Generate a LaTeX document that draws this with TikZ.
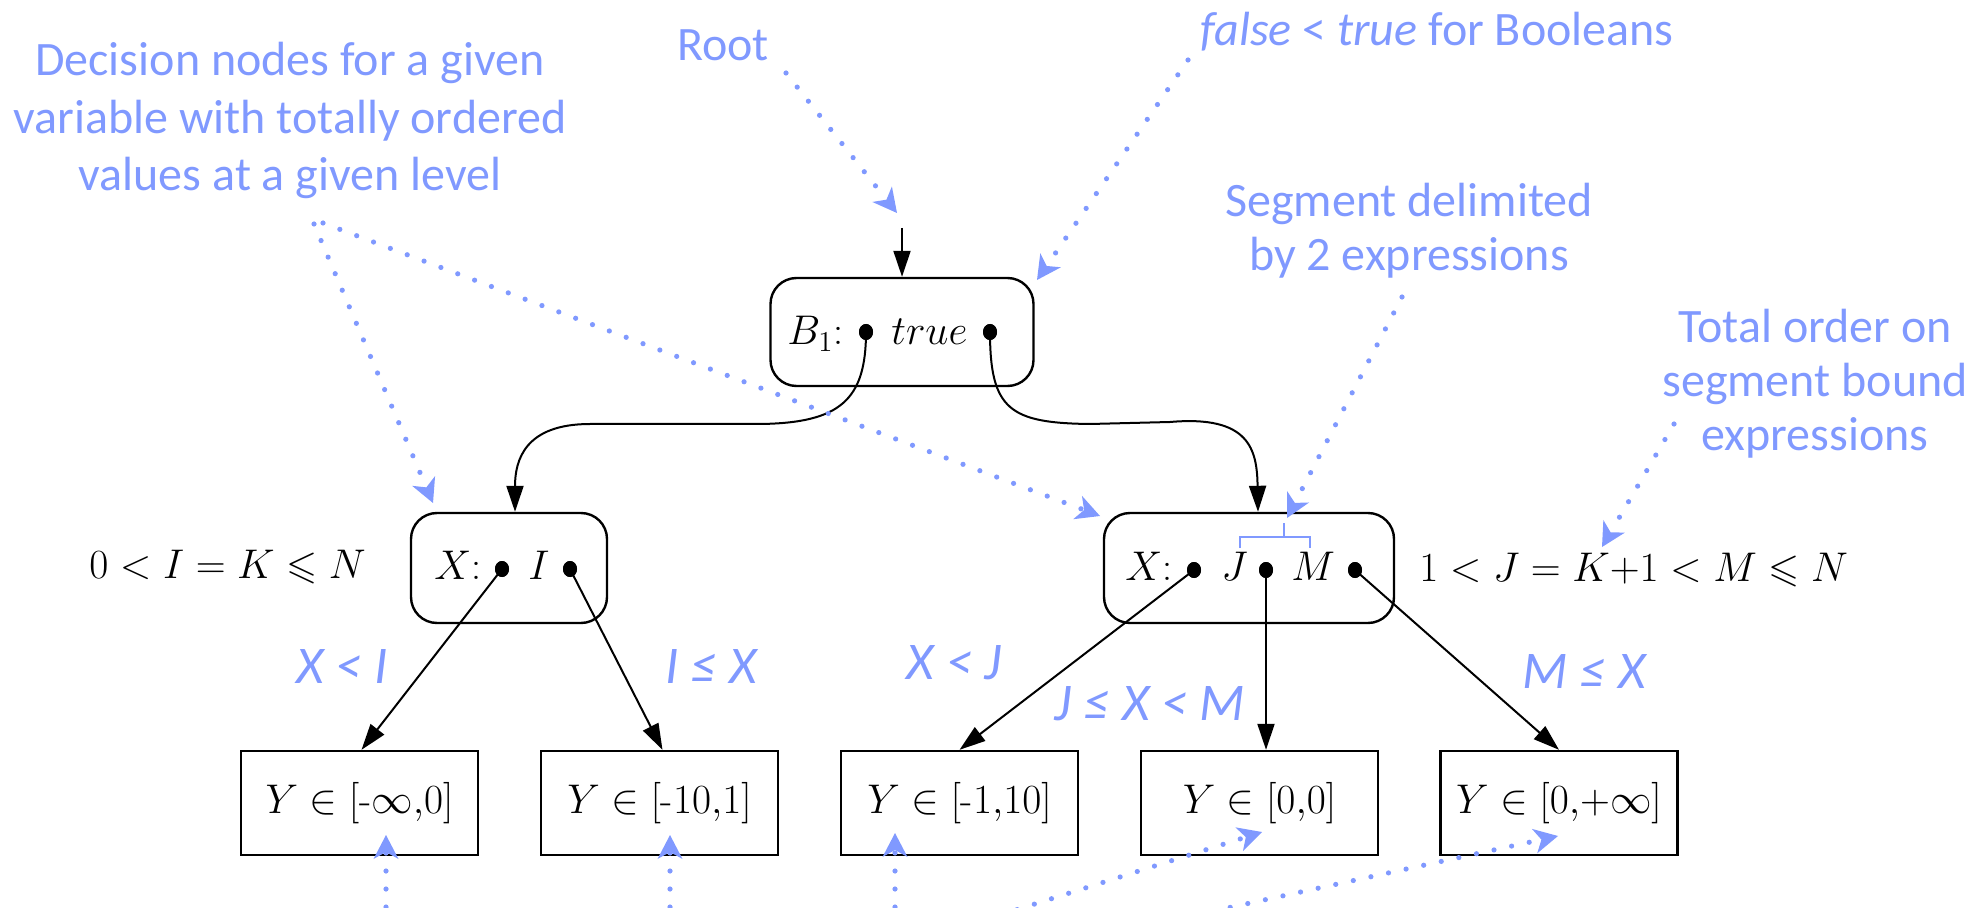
\documentclass[tikz,border=0pt]{standalone}
\usepackage{amsmath,amssymb}
\usepackage[no-math]{fontspec}
\newfontfamily\annotfont{Carlito}
\usetikzlibrary{arrows.meta,shapes.geometric}
\definecolor{annot}{RGB}{128,153,255}
\begin{document}
\begin{tikzpicture}[x=0.5pt,y=-0.5pt,
  note/.style={text=annot, font=\annotfont\fontsize{24}{27}\selectfont, align=center, inner sep=0pt, anchor=base},
  elabel/.style={text=annot, font=\annotfont\itshape\fontsize{26.5}{30}\selectfont, inner sep=0pt, anchor=base},
  pointer/.style={draw=annot, line width=2.6pt, dash pattern=on 0pt off 9pt, line cap=round,
    -{Stealth[length=12pt,width=12.5pt,inset=3.5pt,line width=0pt]}},
  edge/.style={draw, line width=1pt, -{Triangle[length=13pt,width=8.5pt]}},
  decbox/.style={draw, line width=1.2pt, rounded corners=13pt, inner sep=0pt},
  leaf/.style={draw, line width=1.2pt, minimum width=118.5pt, minimum height=52pt, inner sep=0pt, font=\fontsize{20}{24}\selectfont},
  dot/.style={ellipse, fill, inner sep=0pt, minimum width=7pt, minimum height=8pt},
  mtxt/.style={inner sep=0pt, anchor=base west, font=\fontsize{20}{24}\selectfont},
  bracket/.style={draw=annot, line width=0.8pt}
]
\useasboundingbox (0,0) rectangle (1984,908);
\clip (0,0) rectangle (1984,908);

% decision nodes
\node[decbox, minimum width=131.5pt, minimum height=54pt] (B1) at (902,332) {};
\node[decbox, minimum width=98pt, minimum height=55pt] (Xl) at (509,568) {};
\node[decbox, minimum width=145pt, minimum height=55pt] (Xr) at (1249,568) {};

% texts inside decision nodes
\node[mtxt] (tB1) at (787,345) {$B_1$:};
\node[mtxt] (ttrue) at (891,345) {$true$};
\node[dot] (bd1) at (866,332) {};
\node[dot] (bd2) at (990,332) {};

\node[mtxt] (tXl) at (434,579) {$X$:};
\node[mtxt] (tI) at (528,579) {$I$};
\node[dot] (ld1) at (502,569) {};
\node[dot] (ld2) at (570,569) {};

\node[mtxt] (tXr) at (1125,580) {$X$:};
\node[mtxt] (tJ) at (1221,580) {$J$};
\node[mtxt] (tM) at (1291,580) {$M$};
\node[dot] (rd1) at (1194,570) {};
\node[dot] (rd2) at (1266,570) {};
\node[dot] (rd3) at (1355,570) {};

% side labels
\node[mtxt] (lcond) at (89,578) {$0<I=K\leqslant N$};
\node[mtxt] (rcond) at (1419,581) {$1<J=K{+}1<M\leqslant N$};

% leaves
\node[leaf] (y1) at (359.5,803) {$Y\in[\mbox{-}\infty{,}0]$};
\node[leaf] (y2) at (659.5,803) {$Y\in[\mbox{-}10{,}1]$};
\node[leaf] (y3) at (959.5,803) {$Y\in[\mbox{-}1{,}10]$};
\node[leaf] (y4) at (1259.5,803) {$Y\in[0{,}0]$};
\node[leaf] (y5) at (1559,803) {$Y\in[0{,}{+}\infty]$};

% root arrow
\coordinate (rootin) at (902,228);
\draw[edge] (rootin) -- (B1.north);

% curved edges
\draw[edge] (bd1.center) .. controls (866,400) and (840,423) .. (760,424) -- (590,424) .. controls (525,424) and (515,460) .. ([xshift=3pt]Xl.north);
\draw[edge] (bd2.center) .. controls (990,410) and (1010,423) .. (1090,424) -- (1170,422) .. controls (1250,415) and (1257,450) .. ([xshift=4.5pt]Xr.north);

% leaf edges
\draw[edge] (ld1.center) -- ([xshift=1pt]y1.north);
\draw[edge] (ld2.center) -- ([xshift=1.5pt]y2.north);
\draw[edge] (rd1.center) -- (y3.north);
\draw[edge] (rd2.center) -- (rd2.center |- y4.north);
\draw[edge] (rd3.center) -- (y5.north);
\node[dot] at (bd1) {};
\node[dot] at (bd2) {};
\node[dot] at (ld1) {};
\node[dot] at (ld2) {};
\node[dot] at (rd1) {};
\node[dot] at (rd2) {};
\node[dot] at (rd3) {};

% edge labels
\node[elabel] (l1) at (342,683) {X < I};
\node[elabel] (l2) at (711,683) {I ≤ X};
\node[elabel] (l3) at (954,679) {X < J};
\node[elabel] (l4) at (1150,720) {J ≤ X < M};
\node[elabel] (l5) at (1584,688) {M ≤ X};

% bracket
\draw[bracket] (1240,548) -- (1240,537) -- (1310,537) -- (1310,548);
\draw[bracket] (1284,537) -- (1284,523);
\coordinate (brtop) at (1287,518);

% annotations (base = baseline of the last line)
\node[note] (nRoot) at (723,61) {Root};
\node[note] (nBool) at (1437,46) {\textit{false} < \textit{true} for Booleans};
\node[note, font=\annotfont\fontsize{24}{28.8}\selectfont] (nDec) at (290,191) {Decision nodes for a given\\variable with totally ordered\\values at a given level};
\node[note] (nSeg) at (1409,271) {Segment delimited\\by 2 expressions};
\node[note] (nTot) at (1815,451) {Total order on\\segment bound\\expressions};

% pointers
\coordinate (sRoot) at (786,73);
\coordinate (eRoot) at (897,213);
\draw[pointer] (sRoot) -- (eRoot);
\coordinate (sBool) at (1188,60);
\coordinate (eBool) at (1037,280);
\draw[pointer] (sBool) -- (eBool);
\coordinate (sDec1) at (314,224);
\coordinate (eDec1) at (433,503);
\draw[pointer] (sDec1) -- (eDec1);
\coordinate (sDec2) at (323,223);
\coordinate (eDec2) at (1100,516);
\draw[pointer] (sDec2) -- (eDec2);
\coordinate (sSeg) at (1402,297);
\draw[pointer] (sSeg) -- (brtop);
\coordinate (sTot) at (1674,424);
\coordinate (eTot) at (1602,547);
\draw[pointer] (sTot) -- (eTot);

% pointers from below
\coordinate (b1) at (386,925);
\coordinate (b2) at (670,925);
\coordinate (b3) at (895,925);
\coordinate (b4) at (1000,915);
\coordinate (b5) at (1195,915);
\coordinate (e1) at (386,835);
\coordinate (e2) at (670,835);
\coordinate (e3) at (895,833);
\coordinate (e4) at (1262,832);
\coordinate (e5) at (1558,836);
\draw[pointer] (b1) -- (e1);
\draw[pointer] (b2) -- (e2);
\draw[pointer] (b3) -- (e3);
\draw[pointer] (b4) -- (e4);
\draw[pointer] (b5) -- (e5);
\end{tikzpicture}
\end{document}
